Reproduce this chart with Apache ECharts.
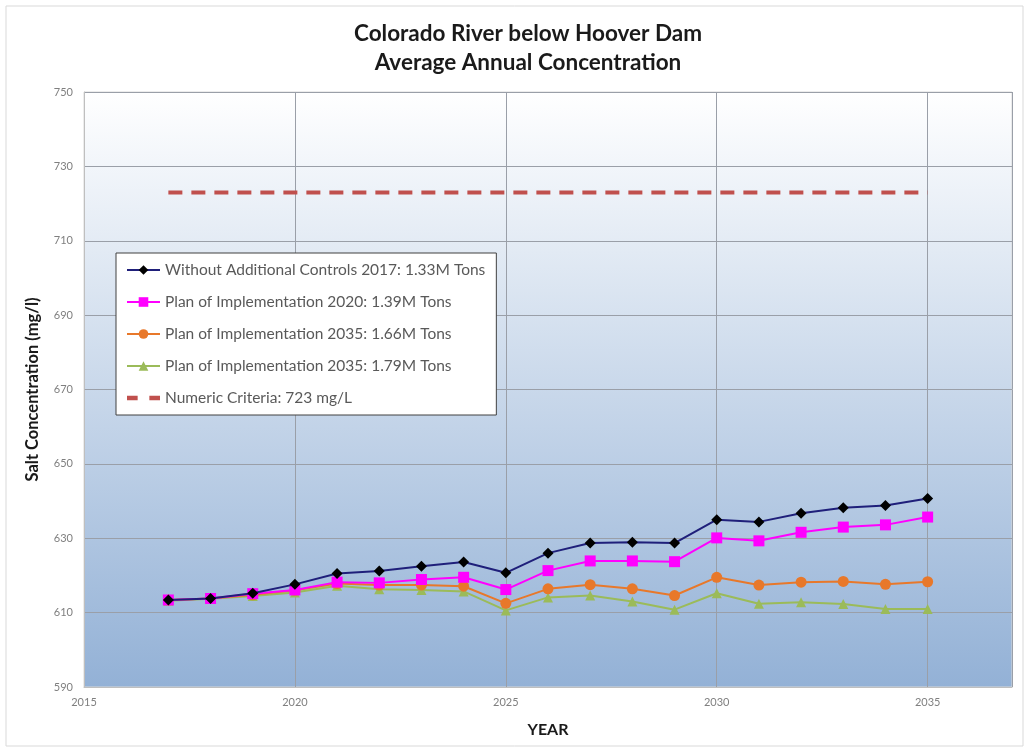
<!DOCTYPE html>
<html>
<head>
<meta charset="utf-8">
<script src="https://cdn.jsdelivr.net/npm/echarts@6/dist/echarts.min.js"></script>
<style>html,body{margin:0;padding:0;background:#fff}#c{width:1029px;height:751px}</style>
</head>
<body>
<div id="c"></div>
<script>
const years = [2017,2018,2019,2020,2021,2022,2023,2024,2025,2026,2027,2028,2029,2030,2031,2032,2033,2034,2035];
const withoutControls = [613.4,613.8,615.2,617.6,620.5,621.2,622.5,623.6,620.7,626.0,628.7,628.9,628.7,635.0,634.4,636.7,638.2,638.8,640.7];
const plan2020 = [613.4,613.8,615.1,616.1,618.2,618.0,618.9,619.5,616.2,621.3,623.9,623.9,623.7,630.1,629.3,631.6,633.0,633.6,635.7];
const plan2035a = [613.4,613.8,614.8,616.0,617.8,617.4,617.4,617.1,612.5,616.4,617.5,616.4,614.6,619.5,617.4,618.2,618.4,617.6,618.3];
const plan2035b = [613.2,613.7,614.5,615.4,617.2,616.3,616.1,615.7,610.6,614.1,614.6,613.0,610.8,615.2,612.4,612.8,612.3,611.0,611.0];
const criteria = 723;
const seriesNames = [
  'Without Additional Controls 2017: 1.33M Tons',
  'Plan of Implementation 2020: 1.39M Tons',
  'Plan of Implementation 2035: 1.66M Tons',
  'Plan of Implementation 2035: 1.79M Tons',
  'Numeric Criteria: 723 mg/L'
];
const pair = arr => years.map((y,i)=>[y,arr[i]]);
const FONT = 'Lato, "Open Sans", sans-serif';
const chart = echarts.init(document.getElementById('c'));
chart.setOption({
  animation:false,
  backgroundColor:'#fff',
  graphic:[{type:'rect',shape:{x:6,y:6,width:1017,height:740},style:{fill:'none',stroke:'#d9d9d9',lineWidth:1},z:-1}],
  title:{
    text:'Colorado River below Hoover Dam\nAverage Annual Concentration',
    left:523, top:14, textAlign:'center',
    textStyle:{fontFamily:FONT,fontSize:22.5,fontWeight:'bold',color:'#1a1a1a',lineHeight:29}
  },
  grid:{left:84,top:92,right:17,bottom:64,show:true,borderColor:'#d9d9d9',borderWidth:1,
    backgroundColor:{type:'linear',x:0,y:0,x2:0,y2:1,colorStops:[{offset:0,color:'#ffffff'},{offset:1,color:'#93b1d6'}]}},
  legend:{
    orient:'vertical', left:116, top:253,
    backgroundColor:'#ffffff', borderColor:'#404040', borderWidth:1,
    padding:[9,11,9,10], itemWidth:33, itemHeight:12, itemGap:16,
    symbolKeepAspect:true,
    textStyle:{fontFamily:FONT,fontSize:15.5,color:'#595959'},
    data:[
      seriesNames[0], seriesNames[1], seriesNames[2], seriesNames[3],
      {name:seriesNames[4], icon:'path://M0,0 H10 V4 H0 Z M21,0 H31 V4 H21 Z'}
    ]
  },
  xAxis:{
    type:'value', min:2015, max:2037, interval:5,
    name:'YEAR', nameLocation:'middle', nameGap:35,
    nameTextStyle:{fontFamily:FONT,fontSize:16,fontWeight:'bold',color:'#1a1a1a'},
    axisLine:{show:true,lineStyle:{color:'#bfbfbf'}}, axisTick:{show:false},
    axisLabel:{color:'#7f7f7f',fontFamily:FONT,fontSize:11,margin:10,showMaxLabel:false,formatter:v=>String(v)},
    splitLine:{show:true,lineStyle:{color:'#9a9fa8',width:1}}
  },
  yAxis:{
    type:'value', min:590, max:750, interval:20,
    name:'Salt Concentration (mg/l)', nameLocation:'middle', nameGap:43,
    nameTextStyle:{fontFamily:FONT,fontSize:16.5,fontWeight:'bold',color:'#1a1a1a'},
    axisLine:{show:true,lineStyle:{color:'#bfbfbf'}}, axisTick:{show:false},
    axisLabel:{color:'#7f7f7f',fontFamily:FONT,fontSize:11,margin:11},
    splitLine:{show:true,lineStyle:{color:'#9a9fa8',width:1}}
  },
  series:[
    {name:seriesNames[0],type:'line',data:pair(withoutControls),symbol:'diamond',symbolSize:11,
      lineStyle:{color:'#1f1f7a',width:2},itemStyle:{color:'#000000'},z:5},
    {name:seriesNames[1],type:'line',data:pair(plan2020),symbol:'rect',symbolSize:11,
      lineStyle:{color:'#ff00ff',width:2},itemStyle:{color:'#ff00ff'},z:4},
    {name:seriesNames[2],type:'line',data:pair(plan2035a),symbol:'circle',symbolSize:11,
      lineStyle:{color:'#e8782a',width:2},itemStyle:{color:'#e8782a'},z:3},
    {name:seriesNames[3],type:'line',data:pair(plan2035b),symbol:'triangle',symbolSize:10,
      lineStyle:{color:'#9bbb59',width:2},itemStyle:{color:'#9bbb59'},z:2},
    {name:seriesNames[4],type:'line',data:years.map(y=>[y,criteria]),symbol:'none',
      lineStyle:{color:'#c0504d',width:4,type:[14,9]},itemStyle:{color:'#c0504d'},z:1}
  ]
});
</script>
</body>
</html>
